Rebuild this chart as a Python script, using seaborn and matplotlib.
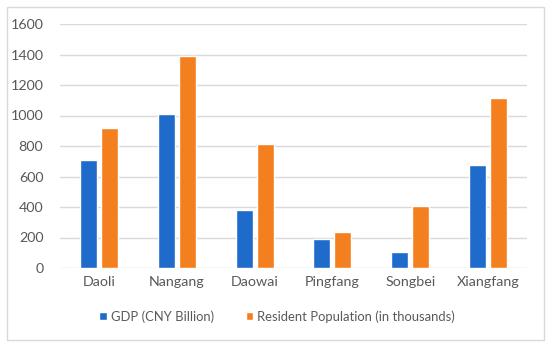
import pandas as pd
import matplotlib.pyplot as plt
import seaborn as sns
from matplotlib.patches import Rectangle

# data
districts = ['Daoli', 'Nangang', 'Daowai', 'Pingfang', 'Songbei', 'Xiangfang']
gdp = [705, 1010, 380, 190, 105, 675]
population = [920, 1390, 815, 238, 408, 1118]
series_names = ['GDP (CNY Billion)', 'Resident Population (in thousands)']

df = pd.DataFrame({
    'district': districts * 2,
    'value': gdp + population,
    'series': [series_names[0]] * len(districts) + [series_names[1]] * len(districts),
})

sns.set_style('white')
plt.rcParams['font.family'] = ['Lato', 'DejaVu Sans']

fig = plt.figure(figsize=(5.5, 3.45), dpi=100)
ax = fig.add_axes([60 / 550, 1 - 268 / 345, 467 / 550, 244 / 345])

# outer light border like the spreadsheet chart frame
fig.patches.append(Rectangle((7 / 550, 1 - 340 / 345), 537 / 550, 333 / 345,
                             transform=fig.transFigure, fill=False,
                             edgecolor='#d9d9d9', linewidth=1))

sns.barplot(data=df, x='district', y='value', hue='series', ax=ax,
            palette=['#1f6bcb', '#f47f1f'], width=0.54, gap=0.19,
            saturation=1, legend=True)

ax.set_ylim(0, 1600)
ax.set_yticks(range(0, 1601, 200))
ax.yaxis.grid(True, color='#d9d9d9', linewidth=1)
ax.set_axisbelow(True)
for s in ax.spines.values():
    s.set_visible(False)
ax.set_xlabel('')
ax.set_ylabel('')
ax.tick_params(axis='both', length=0, labelsize=10.3, colors='#595959', pad=6)
ax.tick_params(axis='y', pad=12)
ax.set_xlim(-0.5, len(districts) - 0.5)

ax.legend(loc='upper center', bbox_to_anchor=(0.465, -0.125), ncol=2, frameon=False,
          fontsize=9.4, labelcolor='#595959', handlelength=0.6, handleheight=0.6,
          handletextpad=0.3, columnspacing=2.4)

fig.savefig('out.png', dpi=100)
